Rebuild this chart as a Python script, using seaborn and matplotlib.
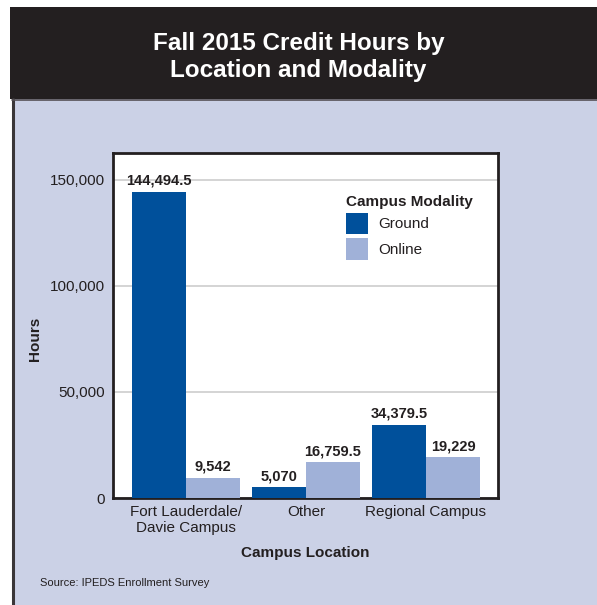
import seaborn as sns
import pandas as pd
import matplotlib.pyplot as plt
from matplotlib.patches import Rectangle

locations = ["Fort Lauderdale/\nDavie Campus", "Other", "Regional Campus"]
modalities = ["Ground", "Online"]
ground_hours = [144494.5, 5070, 34379.5]
online_hours = [9542, 16759.5, 19229]
y_ticks = [0, 50000, 100000, 150000]

df = pd.DataFrame({
    "Campus Location": locations * 2,
    "Campus Modality": [modalities[0]] * 3 + [modalities[1]] * 3,
    "Hours": ground_hours + online_hours,
})

dark = "#231F20"
colors = {"Ground": "#00509B", "Online": "#A0B1D8"}

sns.set_style("white")
plt.rcParams["font.family"] = ["Liberation Sans", "DejaVu Sans"]

W, H = 597, 605
fig = plt.figure(figsize=(W / 100, H / 100), dpi=100)

# header band and panel (behind the axes)
fig.patches.append(Rectangle((12 / W, 0), 1 - 12 / W, 1 - 99 / H, transform=fig.transFigure,
                             facecolor="#CBD1E6", edgecolor="none", zorder=-2))
fig.patches.append(Rectangle((10 / W, 1 - 99 / H), 1 - 10 / W, 92 / H, transform=fig.transFigure,
                             facecolor=dark, edgecolor="none", zorder=-2))
fig.lines.append(plt.Line2D([12.5 / W, 12.5 / W], [0, 1 - 99 / H], transform=fig.transFigure,
                            color="#3a3638", linewidth=2.2, zorder=-1))
fig.lines.append(plt.Line2D([12 / W, 1], [1 - 99.5 / H, 1 - 99.5 / H], transform=fig.transFigure,
                            color="#555055", linewidth=1.2, zorder=-1))

fig.text(0.5, 1 - 57 / H, "Fall 2015 Credit Hours by\nLocation and Modality", color="white",
         ha="center", va="center", fontsize=17.5, fontweight="bold", linespacing=1.2)

ax = fig.add_axes([113 / W, 1 - 498 / H, 385 / W, 345 / H])
sns.barplot(data=df, x="Campus Location", y="Hours", hue="Campus Modality",
            palette=colors, width=0.9, saturation=1, errorbar=None,
            linewidth=0, edgecolor="none", ax=ax, zorder=3)

for cont in ax.containers:
    labels = []
    for v in cont.datavalues:
        labels.append(f"{v:,.0f}" if float(v).is_integer() else f"{v:,.1f}")
    ax.bar_label(cont, labels=labels, padding=3, fontsize=10.5, fontweight="bold", color=dark)

ax.set_ylim(0, 162700)
ax.set_xlim(-0.608, 2.6)
ax.set_yticks(y_ticks)
ax.set_yticklabels([f"{t:,}" for t in y_ticks])
ax.yaxis.grid(True, color="#CDCDCD", linewidth=1.2, zorder=0)
ax.set_axisbelow(True)
ax.tick_params(axis="both", length=0, labelsize=11, labelcolor=dark)
ax.tick_params(axis="y", pad=6)
ax.tick_params(axis="x", pad=5)
for sp in ax.spines.values():
    sp.set_visible(True)
    sp.set_color(dark)
    sp.set_linewidth(2)
ax.set_facecolor("white")

ax.set_xlabel("Campus Location", fontsize=11, fontweight="bold", color=dark)
ax.xaxis.set_label_coords(0.5, -0.139)
ax.set_ylabel("Hours", fontsize=11, fontweight="bold", color=dark)
ax.yaxis.set_label_coords(-0.184, 0.461)

handles, labels = ax.get_legend_handles_labels()
leg = ax.legend(handles, labels, title="Campus Modality", loc="upper left",
                bbox_to_anchor=(0.605, 0.879), frameon=False, fontsize=11,
                title_fontproperties={"weight": "bold", "size": 11},
                handlelength=1.44, handleheight=1.83, labelspacing=0.25,
                handletextpad=0.65, borderaxespad=0, borderpad=0)
leg._legend_box.align = "left"
for t in leg.get_texts():
    t.set_color(dark)
leg.get_title().set_color(dark)

fig.text(40 / W, 1 - 583 / H, "Source: IPEDS Enrollment Survey", fontsize=8,
         color=dark, va="center", ha="left")

fig.savefig("out.png", dpi=100)
